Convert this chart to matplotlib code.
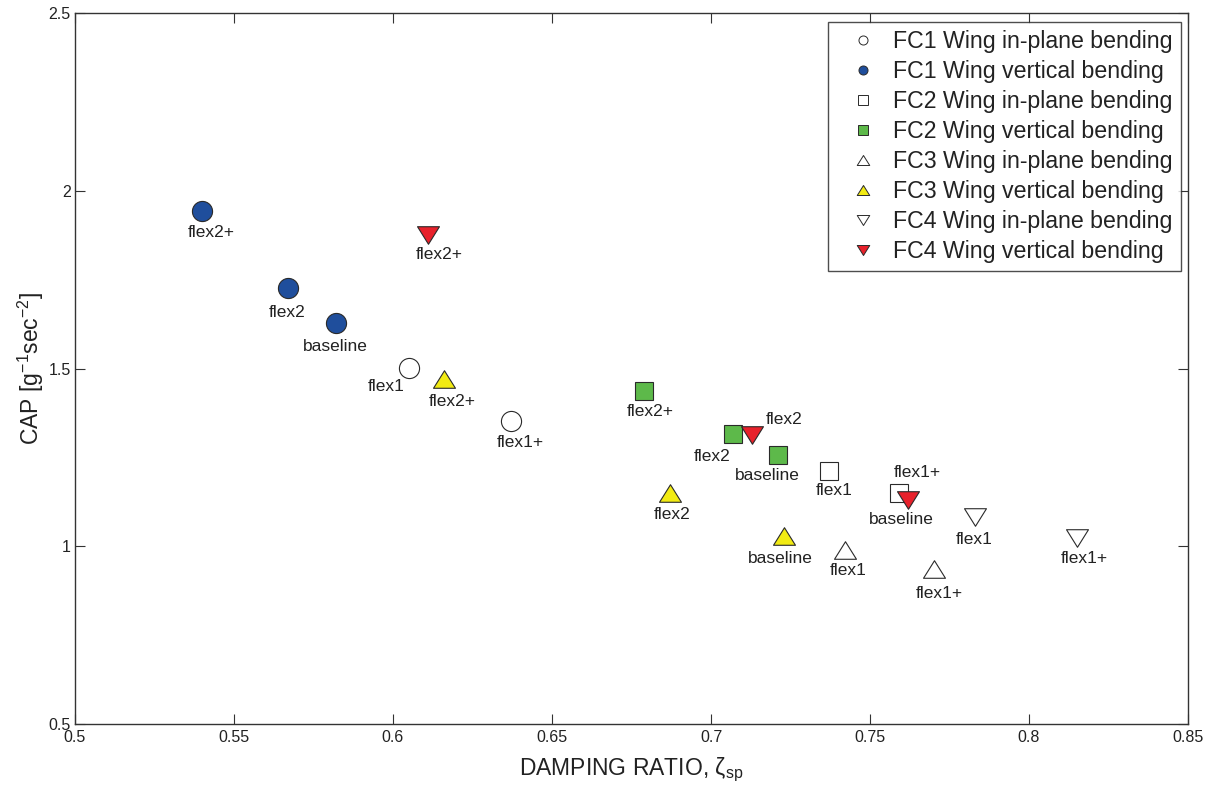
import matplotlib
matplotlib.use("Agg")
import matplotlib.pyplot as plt
from matplotlib.path import Path
from matplotlib.lines import Line2D
from matplotlib.ticker import FuncFormatter, MultipleLocator

plt.rcParams["font.family"] = ["Liberation Sans", "DejaVu Sans"]
plt.rcParams["mathtext.fontset"] = "custom"
plt.rcParams["mathtext.rm"] = "Liberation Sans"
plt.rcParams["mathtext.it"] = "Liberation Sans"
plt.rcParams["mathtext.default"] = "regular"

# flight condition results: damping ratio vs CAP
fc1_vert_x = [0.540, 0.567, 0.582]
fc1_vert_y = [1.943, 1.726, 1.628]
fc1_vert_lbl = ["flex2+", "flex2", "baseline"]

fc1_inpl_x = [0.605, 0.637]
fc1_inpl_y = [1.501, 1.352]
fc1_inpl_lbl = ["flex1", "flex1+"]

fc2_vert_x = [0.679, 0.707, 0.721]
fc2_vert_y = [1.437, 1.316, 1.257]
fc2_vert_lbl = ["flex2+", "flex2", "baseline"]

fc2_inpl_x = [0.737, 0.759]
fc2_inpl_y = [1.212, 1.150]
fc2_inpl_lbl = ["flex1", "flex1+"]

fc3_vert_x = [0.616, 0.687, 0.723]
fc3_vert_y = [1.470, 1.150, 1.029]
fc3_vert_lbl = ["flex2+", "flex2", "baseline"]

fc3_inpl_x = [0.742, 0.770]
fc3_inpl_y = [0.989, 0.936]
fc3_inpl_lbl = ["flex1", "flex1+"]

fc4_vert_x = [0.611, 0.713, 0.762]
fc4_vert_y = [1.876, 1.313, 1.130]
fc4_vert_lbl = ["flex2+", "flex2", "baseline"]

fc4_inpl_x = [0.783, 0.815]
fc4_inpl_y = [1.082, 1.023]
fc4_inpl_lbl = ["flex1", "flex1+"]

# label offsets in pixels (dx, dy) from each marker
fc1_vert_off = [(9, -21), (-1, -24), (0, -23)]
fc1_inpl_off = [(-23, -18), (10, -21)]
fc2_vert_off = [(6, -21), (-21, -23), (-10, -21)]
fc2_inpl_off = [(6, -20), (19, 20)]
fc3_vert_off = [(8, -22), (2, -22), (-4, -23)]
fc3_inpl_off = [(4, -20), (6, -25)]
fc4_vert_off = [(11, -20), (32, 15), (-7, -19)]
fc4_inpl_off = [(-1, -22), (8, -20)]

TXT = "#222222"
EDGE = "#2a2a2a"
BLUE = "#1f4e9c"
GREEN = "#5db94a"
YELLOW = "#f2eb13"
RED = "#e8212b"

tri_up = Path([(0, 0.8), (-1, -0.8), (1, -0.8), (0, 0.8)],
              [Path.MOVETO, Path.LINETO, Path.LINETO, Path.CLOSEPOLY])
tri_dn = Path([(0, -0.8), (-1, 0.8), (1, 0.8), (0, -0.8)],
              [Path.MOVETO, Path.LINETO, Path.LINETO, Path.CLOSEPOLY])

series = [
    ("FC1 Wing in-plane bending", fc1_inpl_x, fc1_inpl_y, fc1_inpl_lbl, fc1_inpl_off, "o", "white", 14.5, 6.5),
    ("FC1 Wing vertical bending", fc1_vert_x, fc1_vert_y, fc1_vert_lbl, fc1_vert_off, "o", BLUE, 14.5, 6.5),
    ("FC2 Wing in-plane bending", fc2_inpl_x, fc2_inpl_y, fc2_inpl_lbl, fc2_inpl_off, "s", "white", 12.5, 6.5),
    ("FC2 Wing vertical bending", fc2_vert_x, fc2_vert_y, fc2_vert_lbl, fc2_vert_off, "s", GREEN, 12.5, 6.5),
    ("FC3 Wing in-plane bending", fc3_inpl_x, fc3_inpl_y, fc3_inpl_lbl, fc3_inpl_off, tri_up, "white", 15.8, 9),
    ("FC3 Wing vertical bending", fc3_vert_x, fc3_vert_y, fc3_vert_lbl, fc3_vert_off, tri_up, YELLOW, 15.8, 9),
    ("FC4 Wing in-plane bending", fc4_inpl_x, fc4_inpl_y, fc4_inpl_lbl, fc4_inpl_off, tri_dn, "white", 15.8, 9),
    ("FC4 Wing vertical bending", fc4_vert_x, fc4_vert_y, fc4_vert_lbl, fc4_vert_off, tri_dn, RED, 15.8, 9),
]

fig = plt.figure(figsize=(12.15, 7.89), dpi=100)
ax = fig.add_axes([0.0617, 0.0824, 0.9161, 0.9011])

handles = []
for name, xs, ys, lbls, offs, mk, fc, ms, lms in series:
    ax.plot(xs, ys, linestyle="none", marker=mk, markersize=ms,
            markerfacecolor=fc, markeredgecolor=EDGE, markeredgewidth=0.8)
    for x, y, t, (dx, dy) in zip(xs, ys, lbls, offs):
        ax.annotate(t, (x, y), xytext=(dx, dy), textcoords="offset pixels",
                    ha="center", va="center", fontsize=12.5, color=TXT)
    handles.append(Line2D([], [], linestyle="none", marker=mk, markersize=lms,
                          markerfacecolor=fc, markeredgecolor=EDGE,
                          markeredgewidth=0.7, label=name))

ax.set_xlim(0.5, 0.85)
ax.set_ylim(0.5, 2.5)
ax.xaxis.set_major_locator(MultipleLocator(0.05))
ax.yaxis.set_major_locator(MultipleLocator(0.5))
fmt = FuncFormatter(lambda v, p: f"{v:g}")
ax.xaxis.set_major_formatter(fmt)
ax.yaxis.set_major_formatter(fmt)
ax.tick_params(direction="in", length=7, width=0.8, top=True, right=True,
               labelsize=11.5, labelcolor=TXT, color="#333333", pad=4)
ax.tick_params(axis="y", pad=3)
for s in ax.spines.values():
    s.set_color("#333333")
    s.set_linewidth(1.0)

ax.set_xlabel(r"DAMPING RATIO, $\zeta_{sp}$", fontsize=16.5, color=TXT, labelpad=8)
ax.set_ylabel(r"CAP [g$^{-1}$sec$^{-2}$]", fontsize=16.5, color=TXT, labelpad=2)

leg = ax.legend(handles=handles, loc="upper right", bbox_to_anchor=(0.9937, 0.9873),
                borderaxespad=0, fontsize=16.7, frameon=True, fancybox=False,
                edgecolor="#222222", borderpad=0.35, handlelength=2.3,
                handletextpad=0.15, labelspacing=0.3, numpoints=1)
leg.get_frame().set_linewidth(1.0)
for t in leg.get_texts():
    t.set_color(TXT)

fig.savefig("out.png", dpi=100)
